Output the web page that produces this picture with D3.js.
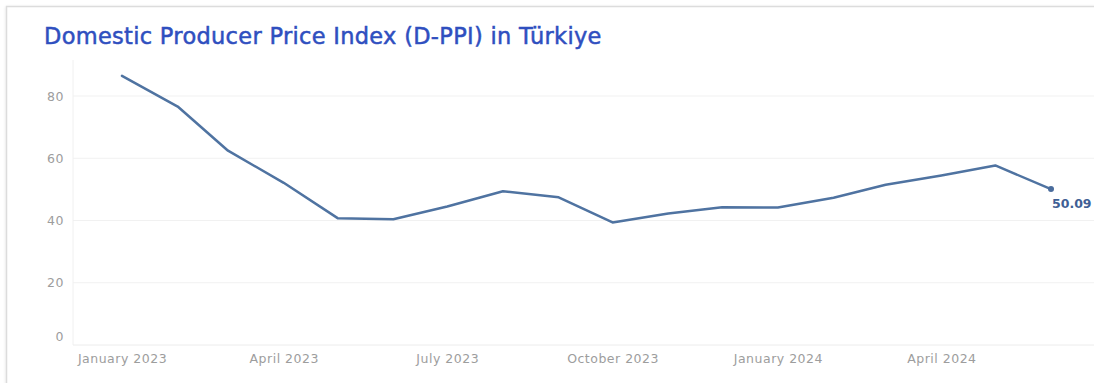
<!DOCTYPE html>
<html>
<head>
<meta charset="utf-8">
<script src="https://cdn.jsdelivr.net/npm/d3@7"></script>
<style>
  html, body { margin: 0; padding: 0; background: #fff; }
  svg { display: block; }
</style>
</head>
<body>
<svg id="chart" width="1094" height="383"></svg>
<script>
// Monthly D-PPI annual change (%), January 2023 – June 2024
const months = [
  "2023-01", "2023-02", "2023-03", "2023-04", "2023-05", "2023-06",
  "2023-07", "2023-08", "2023-09", "2023-10", "2023-11", "2023-12",
  "2024-01", "2024-02", "2024-03", "2024-04", "2024-05", "2024-06"
];
const ppiValues = [
  86.46, 76.61, 62.43, 52.11, 40.76, 40.42,
  44.50, 49.41, 47.44, 39.39, 42.25, 44.22,
  44.20, 47.29, 51.47, 54.49, 57.68, 50.09
];
const yTicks = [0, 20, 40, 60, 80];
const xTickLabels = ["January 2023", "April 2023", "July 2023", "October 2023", "January 2024", "April 2024"];
const xTickMonths = ["2023-01", "2023-04", "2023-07", "2023-10", "2024-01", "2024-04"];
const titleText = "Domestic Producer Price Index (D-PPI) in Türkiye";

const parseMonth = d3.timeParse("%Y-%m");
const data = months.map((m, i) => ({ date: parseMonth(m), value: ppiValues[i] }));

const svg = d3.select("#chart");
const W = 1094, H = 383;
const FONT = "'DejaVu Sans', Verdana, sans-serif";

// card frame
const defs = svg.append("defs");
const f = defs.append("filter").attr("id", "cardShadow").attr("x", "-5%").attr("y", "-5%").attr("width", "110%").attr("height", "110%");
f.append("feDropShadow").attr("dx", 0).attr("dy", 1).attr("stdDeviation", 1.5).attr("flood-color", "#000").attr("flood-opacity", 0.12);

svg.append("rect")
  .attr("x", 6.5).attr("y", 6.5)
  .attr("width", W + 20).attr("height", H + 20)
  .attr("fill", "#fff")
  .attr("stroke", "#dcdcdc")
  .attr("stroke-width", 1.5)
  .attr("filter", "url(#cardShadow)");

// title
svg.append("text")
  .attr("x", 44).attr("y", 44)
  .attr("font-family", FONT)
  .attr("font-size", 22.5)
  .attr("letter-spacing", 0.3)
  .attr("fill", "#2f4fbf")
  .attr("stroke", "#2f4fbf")
  .attr("stroke-width", 0.5)
  .text(titleText);

const plotLeft = 73, plotRight = W, plotBottom = 345;

const x = d3.scaleTime()
  .domain([parseMonth("2023-01"), parseMonth("2024-06")])
  .range([122, 1051]);

const y = d3.scaleLinear()
  .domain([0, 80])
  .range([plotBottom, 96]);

// horizontal gridlines
svg.append("g")
  .selectAll("line")
  .data(yTicks.filter(t => t > 0))
  .join("line")
  .attr("x1", plotLeft).attr("x2", plotRight)
  .attr("y1", d => y(d)).attr("y2", d => y(d))
  .attr("stroke", "#f1f1f1")
  .attr("stroke-width", 1);

// y axis
const yAxis = d3.axisLeft(y).tickValues(yTicks).tickSize(0).tickPadding(9);
const gy = svg.append("g").attr("transform", `translate(${plotLeft},0)`).call(yAxis);
gy.select(".domain").attr("stroke", "#f0f0f0").attr("d", `M0,${60}V${plotBottom}`);
gy.selectAll("text")
  .attr("font-family", FONT)
  .attr("font-size", 12.5)
  .attr("letter-spacing", 0.5)
  .attr("fill", "#9d9d9d")
  .attr("dy", d => d === 0 ? "-0.35em" : "0.32em");

// x axis
const xAxis = d3.axisBottom(x)
  .tickValues(xTickMonths.map(parseMonth))
  .tickFormat((d, i) => xTickLabels[i])
  .tickSize(0)
  .tickPadding(9);
const gx = svg.append("g").attr("transform", `translate(0,${plotBottom})`).call(xAxis);
gx.select(".domain").attr("stroke", "#ececec").attr("d", `M${plotLeft},0H${plotRight}`);
gx.selectAll("text")
  .attr("font-family", FONT)
  .attr("font-size", 12.5)
  .attr("letter-spacing", 0.5)
  .attr("fill", "#9d9d9d");

// line
const line = d3.line().x(d => x(d.date)).y(d => y(d.value));
svg.append("path")
  .datum(data)
  .attr("fill", "none")
  .attr("stroke", "#4f73a1")
  .attr("stroke-width", 2.5)
  .attr("stroke-linejoin", "round")
  .attr("stroke-linecap", "round")
  .attr("d", line);

// last point marker and label
const last = data[data.length - 1];
svg.append("circle")
  .attr("cx", x(last.date)).attr("cy", y(last.value))
  .attr("r", 3)
  .attr("fill", "#4a6c9c");
svg.append("text")
  .attr("x", x(last.date) + 1).attr("y", y(last.value) + 19)
  .attr("font-family", FONT)
  .attr("font-weight", "bold")
  .attr("font-size", 12.5)
  .attr("fill", "#3f5f95")
  .text(last.value.toFixed(2));
</script>
</body>
</html>
